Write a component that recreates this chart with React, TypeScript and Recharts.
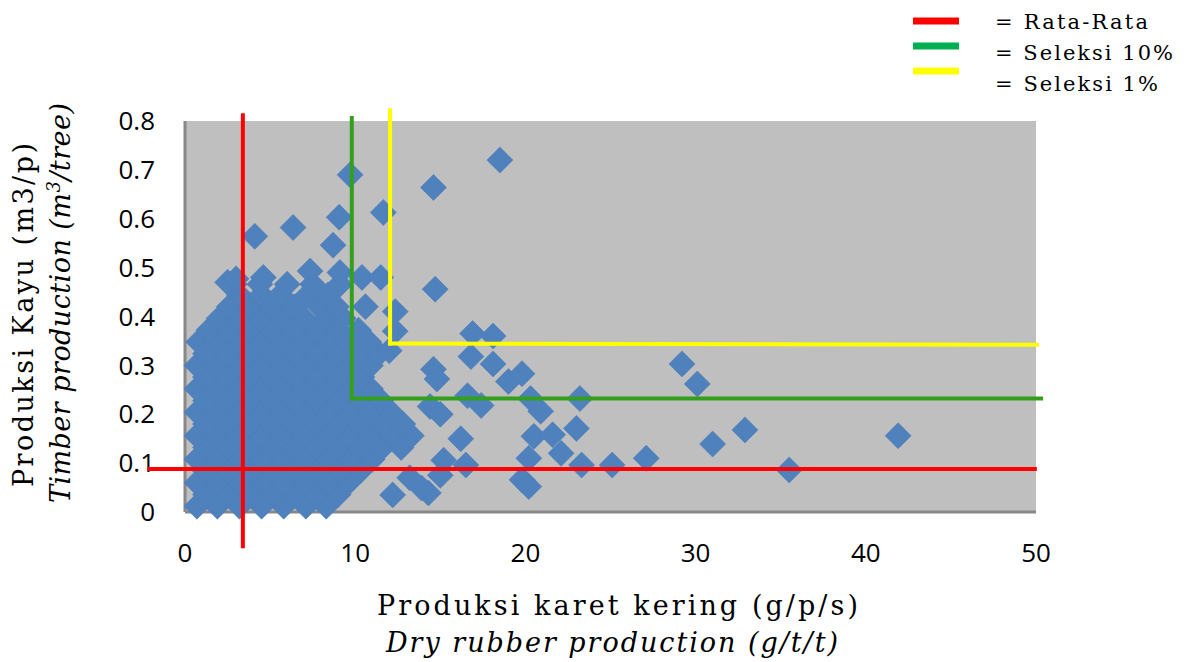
import { ScatterChart, Scatter, XAxis, YAxis, CartesianGrid, ReferenceLine } from "recharts";

// rows of the dense cluster: [timber m3/tree, rubber g/t/t values]
const clusterRows: [number, number[]][] = [
  [0.012, [0.7, 1.9, 3.2, 4.5, 5.8, 7.1, 8.3]],
  [0.036, [1.2, 2.5, 3.9, 5.2, 6.4, 7.7, 9.0]],
  [0.06, [0.7, 1.9, 3.2, 4.5, 5.8, 7.1, 8.4, 9.6]],
  [0.084, [1.2, 2.5, 3.9, 5.2, 6.5, 7.8, 9.1, 10.3]],
  [0.108, [0.7, 1.9, 3.2, 4.5, 5.8, 7.1, 8.4, 9.7, 11.0]],
  [0.132, [1.2, 2.5, 3.8, 5.1, 6.4, 7.7, 9.0, 10.3, 11.6, 12.7]],
  [0.156, [0.7, 1.8, 3.1, 4.4, 5.7, 7.0, 8.3, 9.6, 10.9, 12.2, 13.3]],
  [0.18, [1.2, 2.5, 3.8, 5.1, 6.4, 7.7, 9.0, 10.3, 11.6, 12.8]],
  [0.204, [0.7, 1.8, 3.1, 4.4, 5.7, 7.0, 8.3, 9.6, 10.9, 12.1]],
  [0.228, [1.2, 2.5, 3.8, 5.1, 6.4, 7.7, 9.0, 10.3, 11.5]],
  [0.252, [0.7, 1.8, 3.1, 4.4, 5.7, 7.0, 8.3, 9.6, 10.9]],
  [0.276, [1.2, 2.5, 3.8, 5.1, 6.4, 7.7, 9.0, 10.4]],
  [0.3, [0.7, 1.8, 3.1, 4.4, 5.7, 7.0, 8.3, 9.6, 10.9]],
  [0.324, [1.2, 2.5, 3.8, 5.1, 6.4, 7.7, 9.0, 10.2, 11.4]],
  [0.348, [0.8, 1.8, 3.1, 4.4, 5.7, 7.0, 8.3, 9.5, 10.8]],
  [0.372, [1.4, 2.5, 3.8, 5.1, 6.4, 7.7, 9.0, 10.2]],
  [0.396, [2.0, 3.1, 4.4, 5.7, 7.0, 8.3, 9.3]],
  [0.42, [2.6, 3.8, 5.1, 6.4, 7.9, 8.9, 10.6]],
  [0.444, [3.2, 4.5, 5.6, 7.2, 8.4]],
  [0.466, [2.9, 4.4, 6.0, 7.5, 9.1]],
];

// scattered trees outside the main cluster: [rubber, timber]
const outliers: [number, number][] = [
  [18.5, 0.72], [9.7, 0.69], [14.6, 0.664], [6.35, 0.582], [4.1, 0.564],
  [9.06, 0.603], [11.65, 0.613], [8.7, 0.546], [14.7, 0.456], [7.35, 0.493],
  [9.1, 0.49], [10.4, 0.48], [11.5, 0.48], [2.5, 0.47], [3.0, 0.477],
  [4.6, 0.48], [12.35, 0.41], [12.35, 0.37], [16.9, 0.365], [18.1, 0.36],
  [12.0, 0.33], [14.6, 0.292], [14.8, 0.272], [16.8, 0.318], [18.1, 0.303],
  [19.0, 0.267], [19.8, 0.283], [29.2, 0.303], [30.1, 0.262], [23.2, 0.232],
  [20.3, 0.232], [20.9, 0.206], [14.4, 0.216], [15.0, 0.2], [16.6, 0.238],
  [17.4, 0.218], [20.5, 0.155], [21.6, 0.158], [23.0, 0.171], [22.1, 0.12],
  [16.2, 0.15], [32.9, 0.168], [31.0, 0.139], [41.9, 0.156], [35.5, 0.086],
  [27.1, 0.11], [25.1, 0.096], [23.3, 0.096], [20.2, 0.11], [19.8, 0.066],
  [20.2, 0.052], [15.2, 0.106], [16.5, 0.096], [15.0, 0.075], [14.3, 0.039],
  [12.2, 0.035], [13.9, 0.049], [13.2, 0.07],
];

const xTicks = [0, 10, 20, 30, 40, 50];
const yTicks = [0, 0.1, 0.2, 0.3, 0.4, 0.5, 0.6, 0.7, 0.8];

// selection thresholds
const meanRubber = 3.4;
const meanTimber = 0.088;
const sel10Rubber = 9.8;
const sel10Timber = 0.232;
const sel1Rubber = 12.05;
const sel1Timber = 0.345;

const legendItems = [
  { label: "= Rata-Rata", color: "#FF0000" },
  { label: "= Seleksi 10%", color: "#00B050" },
  { label: "= Seleksi 1%", color: "#FFFF00" },
];

const points = [
  ...clusterRows.flatMap(([y, xs]) => xs.map((x) => ({ x, y }))),
  ...outliers.map(([x, y]) => ({ x, y })),
];

const thresholdCorners = [
  { x: meanRubber, y: meanTimber },
  { x: sel10Rubber, y: sel10Timber },
  { x: sel1Rubber, y: sel1Timber },
];

const Diamond = (props: any) => {
  const { cx, cy } = props;
  if (cx == null || cy == null) return null;
  const r = 13;
  return (
    <polygon
      points={`${cx},${cy - r} ${cx + r},${cy} ${cx},${cy + r} ${cx - r},${cy}`}
      fill="#4F81BD"
      stroke="#4A7DBA"
      strokeWidth={0.6}
    />
  );
};

const Nothing = () => <g />;

const tickStyle = { fill: "#000", fontSize: 26, fontFamily: "Open Sans" };
const serif = "DejaVu Serif";
const W = 4;

export default function App() {
  return (
    <div style={{ position: "absolute", left: 0, top: 0, width: 1184, height: 662, background: "#fff" }}>
      <ScatterChart width={1184} height={662} margin={{ top: 121, right: 148, bottom: 110, left: 125 }}>
        <CartesianGrid horizontal={false} vertical={false} fill="#BFBFBF" />
        <XAxis
          type="number"
          dataKey="x"
          domain={[0, 50]}
          ticks={xTicks}
          height={40}
          tickLine={false}
          tickSize={0}
          tickMargin={32}
          axisLine={{ stroke: "#888888", strokeWidth: 3 }}
          tick={tickStyle}
        />
        <YAxis
          type="number"
          dataKey="y"
          domain={[0, 0.8]}
          ticks={yTicks}
          width={60}
          tickLine={false}
          tickSize={0}
          tickMargin={30}
          axisLine={{ stroke: "#888888", strokeWidth: 3 }}
          tick={tickStyle}
        />
        <Scatter data={points} shape={Diamond} isAnimationActive={false} />
      </ScatterChart>
      <div style={{ position: "absolute", left: 0, top: 0 }}>
        <ScatterChart width={1184} height={662} margin={{ top: 121, right: 148, bottom: 150, left: 185 }}>
          <XAxis type="number" dataKey="x" domain={[0, 50]} hide />
          <YAxis type="number" dataKey="y" domain={[0, 0.8]} hide />
          <Scatter data={thresholdCorners} shape={Nothing} isAnimationActive={false} />
          <ReferenceLine
            segment={[{ x: meanRubber, y: -0.074 }, { x: meanRubber, y: 0.816 }]}
            stroke="#FF0000"
            strokeWidth={W}
            ifOverflow="visible"
          />
          <ReferenceLine
            segment={[{ x: -2.2, y: meanTimber }, { x: 50.05, y: meanTimber }]}
            stroke="#FF0000"
            strokeWidth={W}
            ifOverflow="visible"
          />
          <ReferenceLine
            segment={[{ x: sel10Rubber, y: 0.806 }, { x: sel10Rubber, y: sel10Timber }]}
            stroke="#33A01C"
            strokeWidth={W}
            strokeLinecap="square"
            ifOverflow="visible"
          />
          <ReferenceLine
            segment={[{ x: sel10Rubber, y: sel10Timber }, { x: 50.3, y: sel10Timber }]}
            stroke="#33A01C"
            strokeWidth={W}
            strokeLinecap="square"
            ifOverflow="visible"
          />
          <ReferenceLine
            segment={[{ x: sel1Rubber, y: 0.822 }, { x: sel1Rubber, y: sel1Timber }]}
            stroke="#FFFF00"
            strokeWidth={W}
            strokeLinecap="square"
            ifOverflow="visible"
          />
          <ReferenceLine
            segment={[{ x: sel1Rubber, y: sel1Timber }, { x: 50.05, y: 0.342 }]}
            stroke="#FFFF00"
            strokeWidth={W}
            strokeLinecap="square"
            ifOverflow="visible"
          />
        </ScatterChart>
      </div>
      <svg
        width={1184}
        height={662}
        style={{ position: "absolute", left: 0, top: 0, pointerEvents: "none" }}
      >
        {legendItems.map((item, i) => (
          <g key={item.label}>
            <line x1={913} x2={959} y1={21 + i * 25} y2={21 + i * 25} stroke={item.color} strokeWidth={7} />
            <text
              x={995}
              y={29 + i * 31}
              fontFamily={serif}
              fontSize={21}
              fill="#000"
              textLength={[153, 178, 163][i]}
              lengthAdjust="spacing"
            >
              {item.label}
            </text>
          </g>
        ))}
        <text x={377} y={615} fontFamily={serif} fontSize={27} fill="#000" textLength={481} lengthAdjust="spacing">
          Produksi karet kering (g/p/s)
        </text>
        <text
          x={386}
          y={652}
          fontFamily={serif}
          fontStyle="italic"
          fontSize={27}
          fill="#000"
          textLength={452}
          lengthAdjust="spacing"
        >
          Dry rubber production (g/t/t)
        </text>
        <text
          transform="translate(33, 487) rotate(-90)"
          fontFamily={serif}
          fontSize={27}
          fill="#000"
          textLength={344}
          lengthAdjust="spacing"
        >
          Produksi Kayu (m3/p)
        </text>
        <text
          transform="translate(70, 503) rotate(-90)"
          fontFamily={serif}
          fontStyle="italic"
          fontSize={27}
          fill="#000"
          textLength={400}
          lengthAdjust="spacing"
        >
          Timber production (m<tspan dy={-10} fontSize={18}>3</tspan>
          <tspan dy={10}>/tree)</tspan>
        </text>
      </svg>
    </div>
  );
}
